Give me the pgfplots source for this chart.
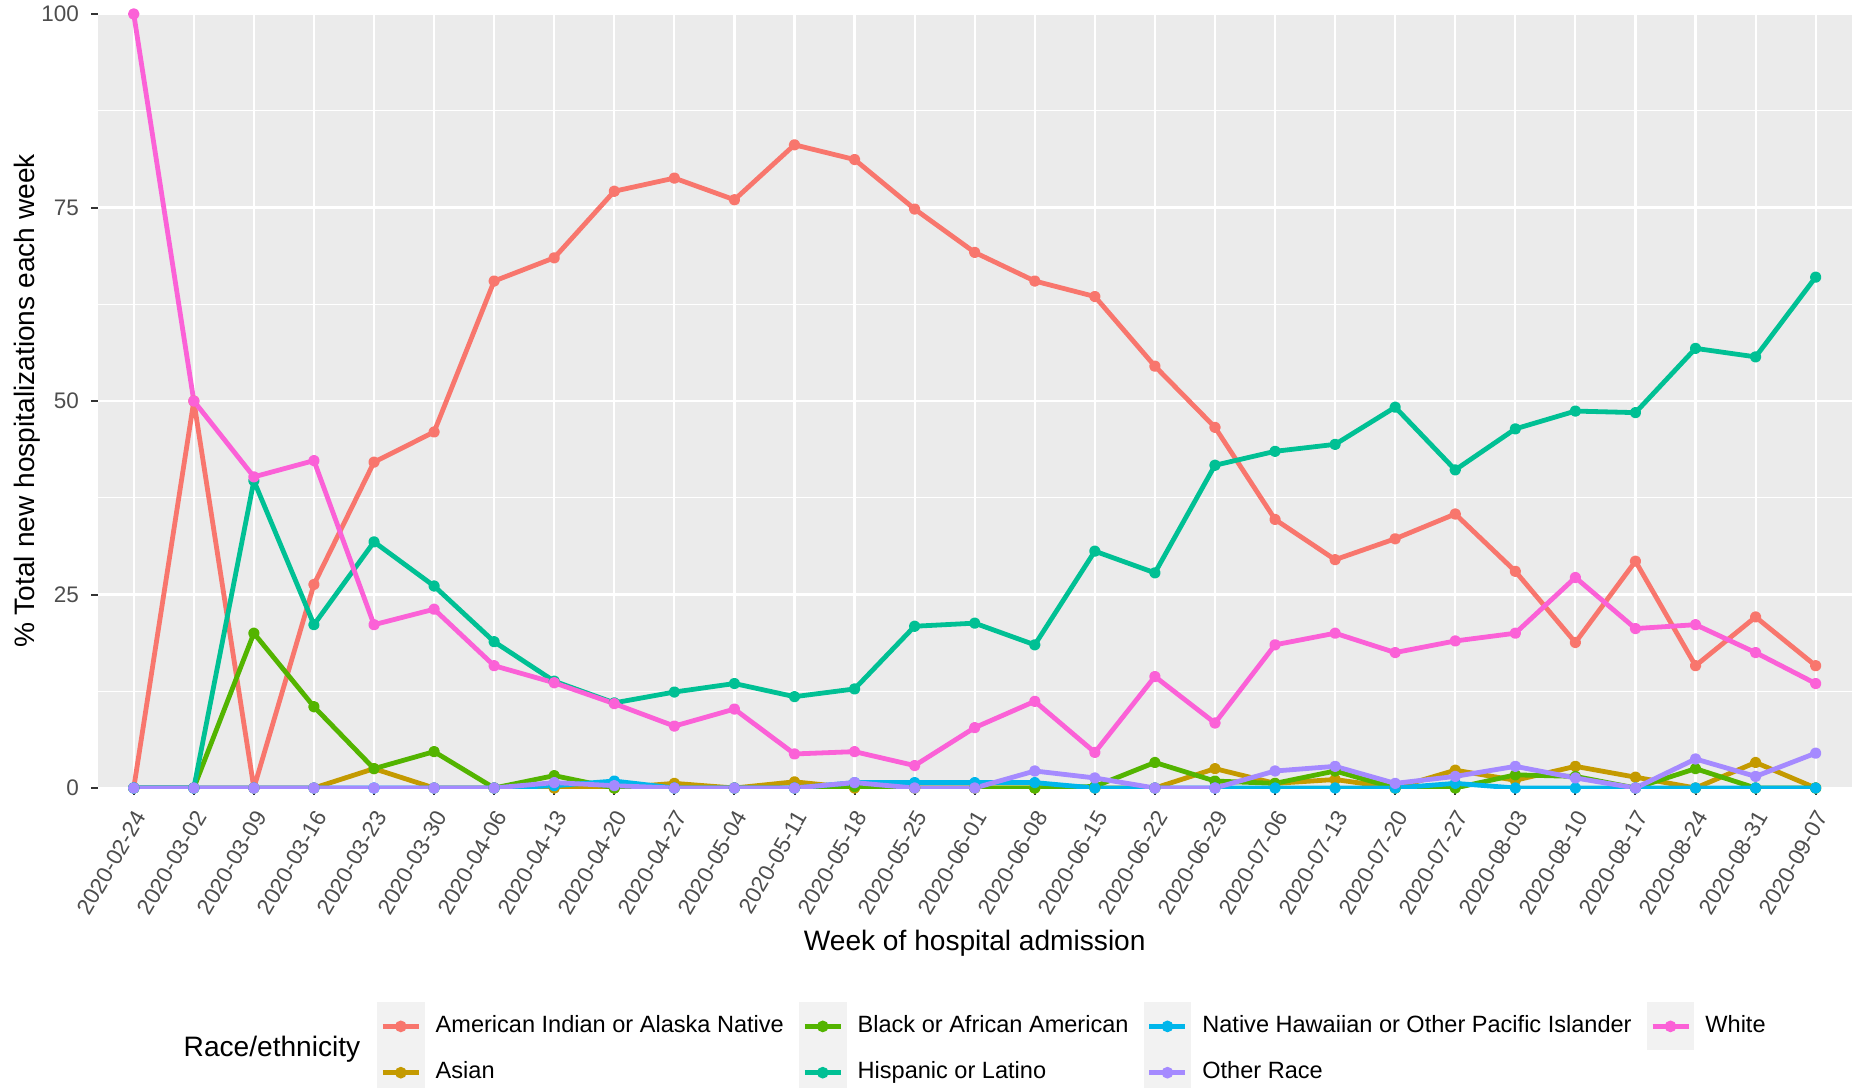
\documentclass[border=0pt]{standalone}
\usepackage{pgfplots}
\pgfplotsset{compat=1.18}
\usepackage{pgfplotstable}
\usepackage{fontspec}
\setmainfont{Liberation Sans}

% ggplot hue palette, 7 groups
\definecolor{cAI}{HTML}{F8766D}
\definecolor{cAS}{HTML}{C49A00}
\definecolor{cBL}{HTML}{53B400}
\definecolor{cHI}{HTML}{00C094}
\definecolor{cNH}{HTML}{00B6EB}
\definecolor{cOT}{HTML}{A58AFF}
\definecolor{cWH}{HTML}{FB61D7}
\definecolor{panel}{HTML}{EBEBEB}
\definecolor{keybg}{HTML}{F2F2F2}
\definecolor{tickcol}{HTML}{333333}
\definecolor{labcol}{HTML}{4D4D4D}

% % of new hospitalizations per week
\pgfplotstableread{
wk ai   as   bl   hi   nh   ot   wh
0  0    0    0    0    0    0    100
1  50   0    0    0    0    0    50
2  0    0    20   39.7 0    0    40.2
3  26.3 0    10.5 21.1 0    0    42.3
4  42.1 2.5  2.5  31.8 0    0    21.1
5  46.0 0    4.7  26.1 0    0    23.1
6  65.5 0    0    18.9 0    0    15.8
7  68.5 0    1.6  13.8 0.3  0.7  13.6
8  77.1 0    0    11.0 0.9  0.3  10.9
9  78.8 0.6  0    12.4 0    0    8.0
10 76.0 0    0    13.5 0    0    10.2
11 83.1 0.8  0    11.8 0    0    4.4
12 81.2 0    0.2  12.8 0.7  0.7  4.7
13 74.8 0    0    20.9 0.7  0    2.9
14 69.2 0    0    21.3 0.7  0    7.8
15 65.5 0    0    18.5 0.7  2.2  11.2
16 63.5 0    0.2  30.6 0    1.3  4.6
17 54.5 0    3.3  27.8 0    0    14.4
18 46.6 2.5  0.9  41.7 0    0    8.4
19 34.7 0.6  0.6  43.5 0    2.2  18.5
20 29.5 1.1  2.2  44.4 0    2.8  20.0
21 32.2 0    0    49.2 0    0.6  17.5
22 35.4 2.3  0    41.1 0.6  1.5  19.0
23 28.0 1.0  1.7  46.4 0    2.8  20.0
24 18.8 2.8  1.5  48.7 0    1.3  27.2
25 29.3 1.4  0    48.5 0    0    20.6
26 15.8 0    2.5  56.8 0    3.75 21.1
27 22.1 3.3  0    55.7 0    1.5  17.5
28 15.8 0    0    66.0 0    4.5  13.5
}\hosp

\pgfplotsset{
  series/.style={line width=0.48mm, mark=*, mark size=0.33mm, line join=round, forget plot},
  key/.style={line width=0.48mm, mark=*, mark size=0.33mm},
}

\begin{document}
\begin{tikzpicture}
\path[use as bounding box] (0,0) rectangle (185.6mm,108.7mm);
\begin{axis}[
  at={(9.77mm,29.9mm)}, anchor=south west,
  scale only axis, width=175.4mm, height=77.4mm,
  xmin=-0.6, xmax=28.6, ymin=0, ymax=100,
  xtick={0,...,28},
  xticklabels={2020-02-24,2020-03-02,2020-03-09,2020-03-16,2020-03-23,2020-03-30,
    2020-04-06,2020-04-13,2020-04-20,2020-04-27,2020-05-04,2020-05-11,2020-05-18,
    2020-05-25,2020-06-01,2020-06-08,2020-06-15,2020-06-22,2020-06-29,2020-07-06,
    2020-07-13,2020-07-20,2020-07-27,2020-08-03,2020-08-10,2020-08-17,2020-08-24,
    2020-08-31,2020-09-07},
  ytick={0,25,50,75,100},
  minor ytick={12.5,37.5,62.5,87.5},
  grid=both,
  major grid style={white, line width=0.22mm},
  minor grid style={white, line width=0.12mm},
  axis background/.style={fill=panel},
  axis line style={draw=none},
  tick align=outside, tick pos=left,
  major tick length=0.65mm, minor tick length=0pt,
  every tick/.style={tickcol, line width=0.2mm},
  /pgf/number format/assume math mode=true,
  yticklabel style={font=\fontsize{6.4}{7}\selectfont, text=labcol},
  xticklabel style={font=\fontsize{6.4}{7}\selectfont, text=labcol,
    xshift=1.3mm, yshift=-0.8mm, rotate=60, anchor=east},
  xlabel={Week of hospital admission},
  ylabel={\% Total new hospitalizations each week},
  x label style={at={(axis description cs:0.5,-0.2003)}, anchor=center,
    font=\fontsize{8}{9}\selectfont},
  y label style={at={(axis description cs:-0.040,0.5)}, anchor=center,
    font=\fontsize{8}{9}\selectfont},
  legend columns=4,
  legend cell align=left,
  legend image code/.code={
    \fill[keybg] (0mm,-2.15mm) rectangle (4.3mm,2.15mm);
    \draw[mark repeat=2,mark phase=2,#1] plot coordinates {(0.35mm,0mm) (2.15mm,0mm) (3.95mm,0mm)};
  },
  legend style={at={(axis description cs:0.1592,-0.2771)}, anchor=north west,
    draw=none, fill=none, inner sep=0pt, outer sep=0pt,
    font=\fontsize{6.7}{8}\selectfont, row sep=-0.15mm,
    nodes={inner xsep=0pt, inner ysep=0pt},
    /tikz/every odd column/.append style={column sep=1.1mm},
    /tikz/every even column/.append style={column sep=1.5mm}},
]
\addplot[series, color=cAI] table[x=wk, y=ai]{\hosp};
\addplot[series, color=cAS] table[x=wk, y=as]{\hosp};
\addplot[series, color=cBL] table[x=wk, y=bl]{\hosp};
\addplot[series, color=cHI] table[x=wk, y=hi]{\hosp};
\addplot[series, color=cNH] table[x=wk, y=nh]{\hosp};
\addplot[series, color=cOT] table[x=wk, y=ot]{\hosp};
\addplot[series, color=cWH] table[x=wk, y=wh]{\hosp};

% legend, filled row by row so the columns read as in the original
\addlegendimage{key, color=cAI}\addlegendentry{American Indian or Alaska Native}
\addlegendimage{key, color=cBL}\addlegendentry{Black or African American}
\addlegendimage{key, color=cNH}\addlegendentry{Native Hawaiian or Other Pacific Islander}
\addlegendimage{key, color=cWH}\addlegendentry{White}
\addlegendimage{key, color=cAS}\addlegendentry{Asian}
\addlegendimage{key, color=cHI}\addlegendentry{Hispanic or Latino}
\addlegendimage{key, color=cOT}\addlegendentry{Other Race}
\end{axis}
\node[font=\fontsize{8}{9}\selectfont] at (27.2mm,3.75mm) {Race/ethnicity};
\end{tikzpicture}
\end{document}
